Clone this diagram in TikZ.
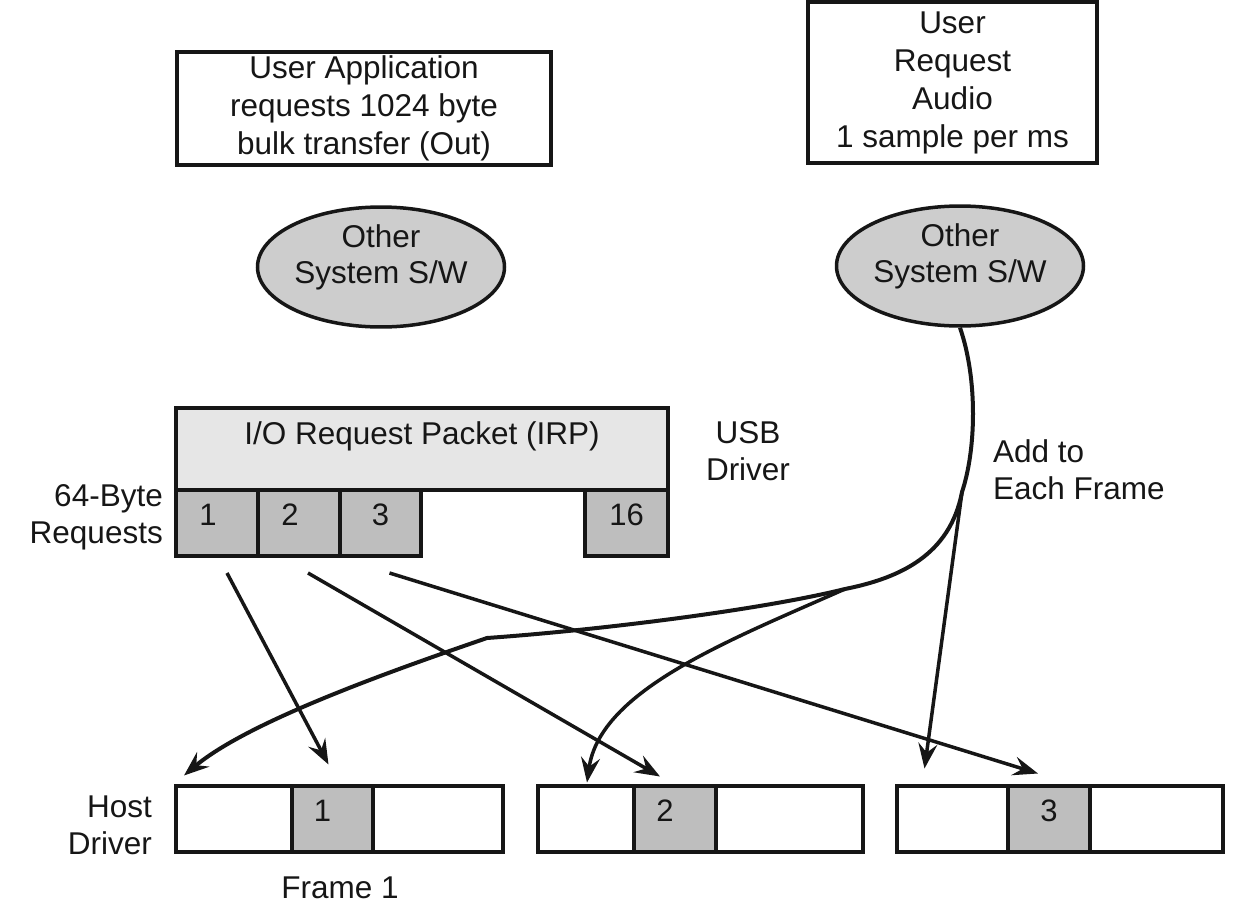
\documentclass[tikz,border=0pt]{standalone}
\usepackage{fontspec}
\setmainfont{Liberation Sans}
\usetikzlibrary{arrows.meta,positioning,shapes.geometric}
\definecolor{ink}{RGB}{22, 22, 22}
\definecolor{lgray}{RGB}{230, 230, 230}
\definecolor{mgray}{RGB}{205, 205, 205}
\definecolor{dgray}{RGB}{190, 190, 190}
\tikzstyle{block} = [rectangle, draw=ink, line width=4pt, fill=white,
  inner sep=1pt, outer sep=0pt, align=center, text=ink, font=\fontsize{31.5}{38}\selectfont]
\tikzstyle{cloud} = [ellipse, draw=ink, line width=3.5pt, fill=mgray,
  minimum width=247pt, minimum height=114pt, inner sep=0pt, text depth=26pt,
  align=center, text=ink, font=\fontsize{31.5}{36}\selectfont]
\tikzstyle{irp} = [rectangle, draw=ink, line width=4pt, fill=lgray, outer sep=0pt]
\tikzstyle{cell} = [rectangle, draw=ink, line width=4pt, fill=dgray, minimum height=66pt,
  inner sep=0pt, outer sep=0pt, text depth=16pt, text=ink, font=\fontsize{31}{37}\selectfont]
\tikzstyle{slot} = [cell, fill=white]
\tikzstyle{txt} = [inner sep=0pt, align=center, text=ink, font=\fontsize{31.5}{37}\selectfont]
\tikzstyle{line} = [draw=ink, line width=3.5pt, -{Stealth[length=25pt,width=19pt,inset=9pt]}]
\tikzstyle{curve} = [line, line width=4pt]

\begin{document}
\begin{tikzpicture}[x=1pt, y=-1pt]
  \useasboundingbox (0,0) rectangle (1254,916);

  %%%%%%%%%%%%%%%%%%%%%%%%%%%%%%%%%%%%%%%%%%%%%%%%%%%%%%%%%%%%%%
  %                   USER REQUESTS                            %
  %%%%%%%%%%%%%%%%%%%%%%%%%%%%%%%%%%%%%%%%%%%%%%%%%%%%%%%%%%%%%%

  \node [block, minimum width=374pt, minimum height=113pt] at (364,108) (bulk) {
    User Application\\requests 1024 byte\\bulk transfer (Out)
  };
  \node [block, minimum width=289pt, minimum height=161pt] at (952.5,82.5) (audio) {
    User\\Request\\Audio\\1 sample per ms
  };

  \node [cloud] at (381,267) (sw1) {Other\\System S/W};
  \node [cloud] at (960,266) (sw2) {Other\\System S/W};

  %%%%%%%%%%%%%%%%%%%%%%%%%%%%%%%%%%%%%%%%%%%%%%%%%%%%%%%%%%%%%%
  %                   USB DRIVER                               %
  %%%%%%%%%%%%%%%%%%%%%%%%%%%%%%%%%%%%%%%%%%%%%%%%%%%%%%%%%%%%%%

  \node [irp, minimum width=492pt, minimum height=82pt] at (422,449) (irp) {};
  \node [txt, below=13pt of irp.north] (irp-title) {I/O Request Packet (IRP)};
  \node [cell, minimum width=82pt, below right=0pt and 0pt of irp.south west] (req1) {1\kern18pt};
  \node [cell, minimum width=82pt, right=0pt of req1] (req2) {2\kern18pt};
  \node [cell, minimum width=81pt, right=0pt of req2] (req3) {3};
  \node [cell, minimum width=83pt, below left=0pt and 0pt of irp.south east] (req16) {16};

  \node [txt, align=right, anchor=east] at (163,517) (req-label) {64-Byte\\Requests};
  \node [txt] at (748,451) (usb-label) {USB\\Driver};
  \node [txt, align=left, anchor=west] at (993,470) (add-label) {Add to\\Each Frame};

  %%%%%%%%%%%%%%%%%%%%%%%%%%%%%%%%%%%%%%%%%%%%%%%%%%%%%%%%%%%%%%
  %                   HOST DRIVER FRAMES                       %
  %%%%%%%%%%%%%%%%%%%%%%%%%%%%%%%%%%%%%%%%%%%%%%%%%%%%%%%%%%%%%%

  \node [slot, minimum width=116pt] at (234,818.5) (f1a) {};
  \node [cell, minimum width=81pt, right=0pt of f1a] (f1b) {1\kern20pt};
  \node [slot, minimum width=130pt, right=0pt of f1b] (f1c) {};

  \node [slot, minimum width=96pt] at (586,818.5) (f2a) {};
  \node [cell, minimum width=82pt, right=0pt of f2a] (f2b) {2\kern20pt};
  \node [slot, minimum width=147pt, right=0pt of f2b] (f2c) {};

  \node [slot, minimum width=111pt] at (952.5,818.5) (f3a) {};
  \node [cell, minimum width=82pt, right=0pt of f3a] (f3b) {3};
  \node [slot, minimum width=133pt, right=0pt of f3b] (f3c) {};

  \node [txt, align=right, anchor=east] at (152,825) (host-label) {Host\\Driver};
  \node [txt] at (340,888) (frame-label) {Frame 1};

  %%%%%%%%%%%%%%%%%%%%%%%%%%%%%%%%%%%%%%%%%%%%%%%%%%%%%%%%%%%%%%
  %                   CONNECTORS                               %
  %%%%%%%%%%%%%%%%%%%%%%%%%%%%%%%%%%%%%%%%%%%%%%%%%%%%%%%%%%%%%%

  \draw [line] ([xshift=10pt,yshift=-17pt]req1.south) -- ([xshift=-4pt,yshift=21pt]f1b.north);
  \draw [line] ([xshift=9pt,yshift=-17pt]req2.south) -- ([xshift=-15pt,yshift=9pt]f2b.north);
  \draw [line] ([xshift=9pt,yshift=-17pt]req3.south) -- ([xshift=-11pt,yshift=12pt]f3b.north);

  \coordinate (join) at (962,492);
  \coordinate (split) at (845,589);
  \coordinate (kink) at (487,638);
  \draw [curve] (sw2.south) .. controls (978,380) and (976,450) .. (join)
    .. controls (950,555) and (900,578) .. (split)
    .. controls (760,610) and (600,630) .. (kink)
    .. controls (400,668) and (250,720) .. ([xshift=8pt,yshift=10pt]f1a.north west);
  \draw [line] (split) .. controls (730,640) and (600,690) .. ([xshift=1pt,yshift=3pt]f2a.north);
  \draw [line] (join) -- ([xshift=-28pt,yshift=17pt]f3a.north);

\end{tikzpicture}
\end{document}
